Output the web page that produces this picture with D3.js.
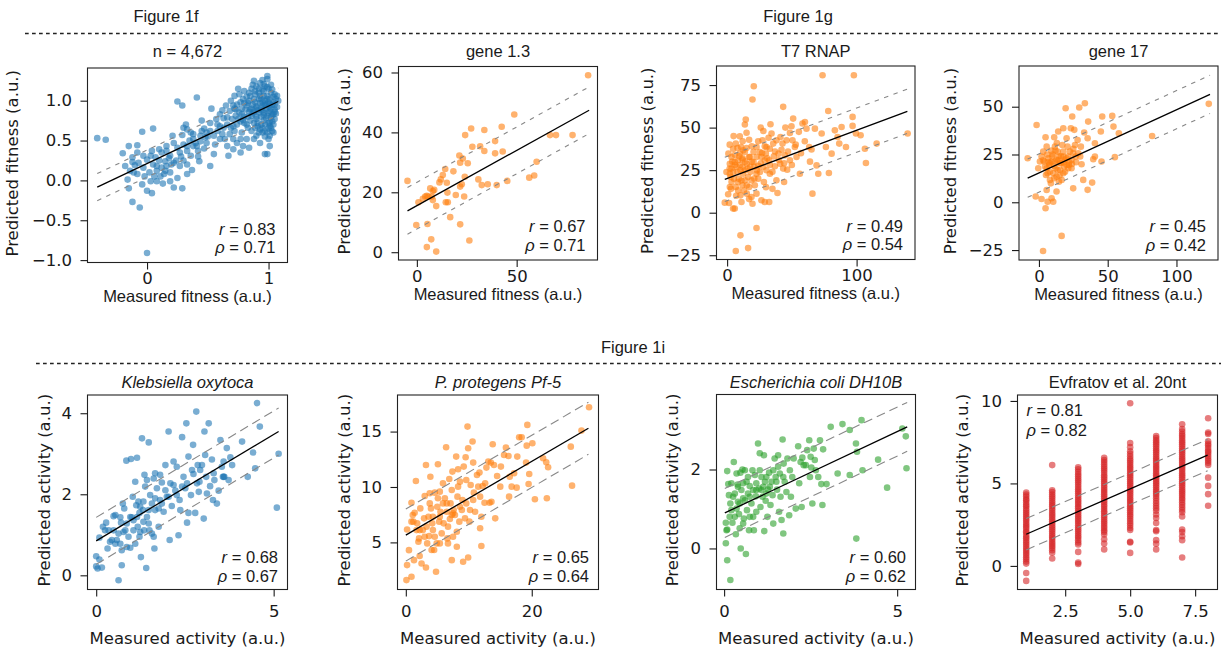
<!DOCTYPE html>
<html>
<head>
<meta charset="utf-8">
<script src="https://cdn.jsdelivr.net/npm/d3@7"></script>
<style>
  body { margin: 0; background: #fff; }
  svg  { display: block; }
</style>
</head>
<body>
<svg id="fig" width="1225" height="651"></svg>
<script>
// ── Data ────────────────────────────────────────────────────────────────────
const headerLabels = ["Figure 1f", "Figure 1g", "Figure 1i"];
const panelTitles  = ["n = 4,672", "gene 1.3", "T7 RNAP", "gene 17",
                      "Klebsiella oxytoca", "P. protegens Pf-5", "Escherichia coli DH10B", "Evfratov et al. 20nt"];
const xLabels = ["Measured fitness (a.u.)", "Measured activity (a.u.)"];
const yLabels = ["Predicted fitness (a.u.)", "Predicted activity (a.u.)"];
const rValues   = ["0.83", "0.67", "0.49", "0.45", "0.68", "0.65", "0.60", "0.81"];
const rhoValues = ["0.71", "0.71", "0.54", "0.42", "0.67", "0.64", "0.62", "0.82"];

const xTicks = [[0, 1], [0, 50], [0, 100], [0, 50, 100], [0, 5], [0, 20], [0, 5], [2.5, 5.0, 7.5]];
const yTicks = [[-1, -0.5, 0, 0.5, 1], [0, 20, 40, 60], [-25, 0, 25, 50, 75], [-25, 0, 25, 50],
                [0, 2, 4], [5, 10, 15], [0, 2], [0, 5, 10]];

// regression line end points and the half-width of the dashed band
const fitLines = [
  [[-0.41, -0.085], [1.08, 0.99]],
  [[-4.7, 13.8], [86.3, 47.4]],
  [[-1.8, 19.6], [139.2, 59.6]],
  [[-8.2, 12.6], [124.4, 56.5]],
  [[0, 0.85], [5.14, 3.55]],
  [[0, 5.66], [29.0, 15.3]],
  [[0.02, 0.9], [5.29, 3.08]],
  [[1.0, 1.92], [7.98, 6.72]],
];
const bandOffsets = [0.17, 7.8, 13, 10, 0.58, 2.35, 0.62, 0.95];

const fitnessAll = [
  [-0.41,0.53],[-0.34,0.51],[0,-0.91],[-0.06,-0.34],[-0.12,-0.27],
  [-0.2,0.34],[-0.15,0.43],[-0.08,0.44],[-0.04,0.61],[0.05,0.65],[-0.12,0.23],[-0.1,0.19],[-0.16,0.01],[-0.15,-0.1],
  [-0.11,0.1],[-0.08,0.08],[-0.03,0.16],[0,0.26],[0.03,0.31],[-0.04,-0.05],[0,-0.13],[0.04,-0.16],[0.03,-0.01],
  [0.08,-0.01],[0.13,-0.04],[0.12,0.16],[0.08,0.12],[0.15,0.24],[0.19,0.31],[0.04,0.37],[0.1,0.39],[0.16,0.37],
  [0.22,-0.09],[0.29,-0.1],[0.25,0.03],[0.19,0.1],[0.14,0.08],[0.33,0.2],[0.37,0.13],[0.33,0.08],[0.27,0.35],
  [0.33,0.37],[0.38,0.43],[0.43,0.24],[0.42,0.37],[0.25,0.41],[0.22,0.47],[0.21,0.56],[0.25,0.99],[0.29,0.94],
  [0.41,1.04],[0.33,0.64],[0.32,0.7],[0.29,0.57],[0.38,0.58],[0.47,0.65],[0.45,0.75],[0.49,0.47],[0.52,0.18],
  [0.55,0.33],[0.53,0.9],[0.57,0.77],[0.6,0.83],[0.63,0.66],[0.64,0.52],[0.67,0.31],[0.68,0.58],[0.71,0.68],
  [0.73,0.81],[0.75,1.15],[0.77,0.98],[0.74,0.47],[0.78,0.6],[0.79,0.43],[0.84,0.41],[0.82,0.7],[0.85,0.89],
  [0.88,1.02],[0.88,1.25],[0.92,1.1],[0.9,0.77],[0.93,0.64],[0.93,0.47],[0.96,0.85],[0.97,0.33],[0.99,1.27],
  [0.99,1.02],[1.0,0.52],[1.01,0.68],[1.02,0.79],[1.03,0.62],[1.04,0.98],[1.05,1.08],[1.05,0.89],[1.07,1.06],
  [1.08,1.0],[0.99,1.31],[0.96,1.21],[0.95,0.94],[0.9,0.91],[0.86,0.81],[0.82,0.94],[0.79,1.02],[0.71,0.94],
  [0.68,0.87],[0.66,0.79],[0.99,0.81],[1.01,0.73],[0.97,0.7],[0.95,0.6],[0.9,0.56],[0.88,0.52],[1.04,0.83],
  [1.01,0.87],[1.0,0.98],[0.96,1.06],[0.92,1.02],[0.89,0.98],[0.85,1.06],[0.84,1.0],[0.81,0.89],[0.78,0.83],
  [0.75,0.77],[0.73,0.89],[0.7,0.77],[0.6,0.68],[0.58,0.62],[0.49,0.6],[0.44,0.56],[0.38,0.52],[0.16,0.43],
  [0.12,0.35],[0.07,0.29],[-0.03,0.31],[-0.08,0.35],[-0.12,0.29],[-0.18,0.18],[-0.14,0.12],[-0.07,0.22],
  [0.08,0.18],[0.11,0.05],[0.16,0.18],[0.22,0.22],[0.27,0.18],[0.19,-0.01],[0.33,0.43],[0.36,0.31],[0.41,0.43],
  [0.44,0.49],[0.48,0.54],[0.55,0.56],[0.6,0.52],[0.66,0.43],[0.71,0.39],[0.77,0.35],[0.82,0.52],[0.77,0.52],
  [0.71,0.52],[0.99,0.33],[1.01,0.43],[1.01,0.56],[1.04,0.6],[1.05,0.77],[1.03,1.14],[0.99,1.17],[0.95,1.14],
  [0.92,0.85],[0.95,0.88],[0.98,0.9],[1.0,0.92],[0.97,0.95],[0.93,0.97],[0.9,0.93],[0.88,0.86],[0.86,0.9],
  [0.94,0.8],[0.98,0.78],[1.02,0.9],[1.03,0.95],[0.99,1.06],[0.96,1.12],[0.92,1.15],[0.89,1.08],[1.02,1.1],
  [1.05,0.95],[0.9,0.8],[0.84,0.86],[0.8,0.8],[0.96,0.75],[1.0,0.85],[0.94,1.02],[0.97,1.0],[1.01,1.02],
  [0.87,0.95],[0.83,0.97],[0.91,0.72],[1.03,0.74],[1.0,0.65],
  [0.72,0.9],[0.74,0.95],[0.76,0.85],[0.78,0.9],[0.8,0.97],[0.82,1.05],[0.84,1.1],[0.86,1.15],[0.87,1.2],
  [0.9,1.18],[0.93,1.22],[0.95,1.26],[0.97,1.18],[1.0,1.15],[1.02,1.2],[1.04,1.05],[1.06,1.02],[1.07,0.92],
  [1.06,0.84],[1.04,0.7],[1.02,0.66],[0.99,0.6],[0.97,0.55],[0.95,0.66],[0.92,0.6],[0.89,0.66],[0.86,0.62],
  [0.83,0.66],[0.8,0.72],[0.77,0.74],[0.74,0.7],[0.72,0.62],[0.69,0.66],[0.66,0.7],[0.63,0.78],[0.62,0.88],
  [0.65,0.94],[0.69,1.0],[0.72,1.06],[0.76,1.08],[0.8,1.12],[0.85,0.75],[0.88,0.72],[0.91,0.68],[0.94,0.7],
  [0.97,0.62],[1.0,0.72],[1.03,0.82],[1.05,0.86],[0.98,0.95],[0.95,0.98],[0.91,0.88],[0.87,0.84],[0.83,0.8],
  [0.79,0.76],[0.94,0.9],[0.96,0.82],[1.01,0.95],[0.89,1.12],[0.93,1.06],
  [0.5,0.55],[0.52,0.62],[0.45,0.62],[0.4,0.47],[0.35,0.5],[0.3,0.45],[0.28,0.3],[0.24,0.25],[0.2,0.2],
  [0.1,0.25],[0.05,0.2],[-0.02,0.05],[0.02,0.1],[0.06,0.05],[0.15,0.12],[0.18,0.28],[0.3,0.25],[0.42,0.3],
  [0.47,0.4],[0.56,0.45],[0.62,0.58],[0.58,0.7],[0.52,0.72],[0.36,0.6],[0.3,0.66]
];

const gene13 = [
  [-4.7,23.8],[-0.3,9.1],[0.8,16.7],[3,17.8],[4.2,18.6],[5,18.8],[5.8,18.6],[6.7,21.3],[7.5,18.6],[8,20.4],
  [8.7,20.8],[8,17.4],[9.7,15.4],[5.3,9.4],[5,1.7],[7.2,4.3],[9.7,0.2],[11.3,23.3],[12,24.3],[13,25.8],
  [14.2,27.8],[15,23.2],[14.5,16.7],[15.5,16.7],[15.3,19.9],[16.7,11.7],[18.3,27],[19.5,19.1],[21.3,32.3],
  [21.7,29.9],[21.7,21.9],[21.7,9.3],[23,31.3],[22.5,22.7],[24,25.2],[23.7,18.6],[24.2,39.1],[25.5,29.7],
  [26.3,3.9],[27.2,41.3],[27.8,35.2],[30.8,24.3],[31.7,35.4],[32.5,22.4],[33.8,40.8],[33.8,33.8],[35.5,22.7],
  [39.2,37.1],[39.2,33],[40,22.4],[42.5,41.9],[43,33.6],[45.3,23.8],[48.8,46],[56.3,24.9],[58.8,25.6],
  [60,30.2],[66.7,39.1],[69.7,39.1],[78,39.1],[85.8,59.1]
];

const t7rnap = [
  [-1.8,5.9],[1.5,5.7],[4.6,2.4],[5.9,2.4],[6.7,-22.5],[10.3,-13.3],[16.2,-20.8],[22.7,-9],[20.6,74.3],
  [19.6,66.5],[14.4,54.7],[13.7,51.8],[9.8,44.9],[10.8,38.6],[9.3,33.1],[11.9,31.2],[13.7,35.7],[17,42.9],
  [17.5,32.7],[3.4,25.9],[2.1,22.9],[3.4,18],[5.2,20],[6.7,15.1],[8.5,13.1],[10.3,10.2],[11.1,6.3],[0.8,10.8],
  [2.1,15.1],[7.2,26.9],[10.3,24.9],[12.4,22.9],[13.7,19],[15.2,16.1],[17,15.1],[18.8,9.2],[19.6,5.3],
  [21.4,16.1],[22.7,22.9],[24,27.5],[25.3,35.7],[26,50],[27.3,42.5],[29.1,39],[29.9,34.7],[30.4,24.9],
  [28.4,18],[29.1,6.3],[32.5,6.3],[33.5,52],[34.3,46.5],[35.6,40.6],[36.1,33.1],[36.9,27.3],[38.1,19],
  [38.9,11.6],[41.2,44.5],[42.8,40.6],[43.3,62.2],[44.6,33.7],[46.4,25.3],[48.5,46.9],[49.7,50.8],[51,55.3],
  [52.3,38.6],[53.6,32.7],[55.4,47.5],[56.2,22.9],[58.2,52.4],[60.1,53.3],[61.3,49.4],[63.4,38.6],[65.2,37.1],
  [65.9,11.2],[67.8,49.4],[69.1,27.8],[70.4,22.9],[73,46.5],[73.7,80.8],[76.3,38.6],[78.1,59.8],[78.6,23.3],
  [80.7,34.7],[83.2,48.4],[85.3,44.5],[86.6,40.6],[88.4,50.4],[91.8,38.6],[96.9,56.3],[97.9,80.8],[96.9,51],
  [99.5,46.5],[103.1,45.5],[107.2,29.2],[106.4,37.6],[115.5,40.6],[139.4,46.5],[4.6,37.6],[6.7,40.6],
  [8.5,30.8],[5.9,29.8],[2.1,28.8],[-0.5,23.9],[11.9,26.9],[15.2,28.8],[17.8,26.9],[20.4,29.8],[22.7,32.7],
  [22.7,38.6],[26.5,32.7],[25.3,23.9],[33,22.9],[32.5,30.8],[30.4,38.6],[39.7,34.7],[41,28.8],[43.3,25.9],
  [48.5,30.8],[50.5,42.5],[45.9,42.5],[38.1,42.5],[33,37.6],[29.1,30.8],[13.7,24.9],[11.1,18.9],[8.5,18],
  [16.2,21],[18.8,19],[9.8,34.7],[12.4,36.7],[17,32.7],[20.4,35.7],[3.4,32.7],[1,34.7],[2.6,21],[4.6,23.9],
  [11.9,16.1],[15.2,11.2],[22.7,11.2],[26.5,7.3],
  [2,26],[4,30],[6,28],[8,24],[9,20],[10,28],[12,32],[14,30],[16,26],[18,24],[19,30],[21,27],[23,25],[24,20],
  [26,29],[27,35],[28,27],[31,32],[33,28],[35,24],[37,36],[40,31],[42,37],[44,29],[47,36],[50,28],[53,40],
  [57,35],[60,42],[64,30],[6,34],[8,38],[12,42],[15,38],[19,39],[24,42],[3,14],[7,10],[13,13],[17,8],[21,20],
  [30,15],[35,14],[44,18],[5,45],[2,40],[15,47],[28,48],[32,44],[45,50]
];

const gene17 = [
  [-8.2,23],[-1.7,40.4],[-0.5,17.8],[-2.4,3],[1.9,1.7],[0.7,21.3],[1.9,23.9],[3.1,26.5],[3.9,21.3],[4.8,34],
  [5.6,29.1],[5.1,14.3],[5.6,6.4],[4.8,-3.1],[6.3,0.3],[6.8,23],[7.5,19.5],[8,16],[8.7,9.9],[9.2,2.1],
  [10.4,0.3],[11.1,34],[11.6,29.1],[11.6,21.3],[12.1,17.8],[12.8,13.4],[12.8,5.6],[13.6,26.5],[14,37],
  [14.5,23.9],[15.3,16.9],[16,20.4],[16.5,11.7],[16.5,-17.6],[17.7,38.7],[17.7,26.5],[18.4,18.7],[18.9,22.2],
  [19.4,49.2],[20.1,33.5],[20.8,29.1],[21.3,23.9],[21.8,19.5],[22.5,26.5],[23.2,38.7],[24.2,44.9],[24.9,25.6],
  [24.9,7.3],[25.7,37.9],[26.6,23.9],[28.6,25.6],[29.3,49.6],[30.5,29.1],[31,19.9],[32.2,11.7],[32.9,36.5],
  [33.4,51.8],[35.4,33.5],[35.4,6.5],[35.8,42.2],[38.7,10.3],[39.5,22.5],[40.7,23.9],[40.7,30.9],[45,37],
  [46,44.9],[45.5,21.3],[53.3,45.2],[54.2,39.6],[55.2,23.6],[58.1,36.1],[82.3,34.7],[123.5,51.5],[3,-25.5],
  [4.4,18.7],[8,20.4],[9.7,23.9],[10.4,15.2],[13.6,16.9],[15.3,20.4],[17.7,15.2],[20.1,19.5],[21.3,17.8],
  [23.7,17.8],[23.7,22.2],[17.7,23.9],[12.8,22.2],[9.2,21.3],[6.3,15.2],[8,11.7],[11.1,12.6],[14.5,10.8],
  [5.6,17.8],[26.2,30],[28.1,32.6],
  [10,25],[12,27],[14,22],[16,24],[18,21],[20,23],[22,21],[24,20],[19,16],[15,14],[11,19],[7,21],[9,27],
  [13,31],[17,30],[25,28],[27,21],[30,24],[6,25],[3,22]
];

const klebsiella = [
  [0,0.47],[0.09,0.39],[0,0.22],[0.04,0.17],[0.16,0.19],[0.09,0.93],[0.19,1.2],[0.28,1.3],[0.32,0.66],
  [0.39,0.83],[0.44,0.87],[0.49,1.46],[0.54,1.49],[0.54,0.78],[0.58,0.87],[0.63,-0.12],[0.68,1.43],[0.7,1.3],
  [0.72,0.25],[0.75,1.77],[0.79,1.65],[0.82,1.11],[0.85,2.83],[0.91,0.95],[0.96,0.68],[0.98,2.87],[1,1.43],
  [1.03,1.94],[1.05,1.36],[1.1,2.31],[1.13,1.73],[1.15,2.9],[1.17,1.2],[1.19,1.82],[1.22,1.54],[1.24,1.07],
  [1.26,0.45],[1.29,3.38],[1.32,1.61],[1.33,1.82],[1.36,2.48],[1.38,2.19],[1.41,0.18],[1.43,1.44],[1.48,3.28],
  [1.48,1.28],[1.52,1.98],[1.57,1.03],[1.62,2.39],[1.64,0.66],[1.66,1.61],[1.71,2.15],[1.76,1.2],[1.8,1.86],
  [1.85,2.29],[1.9,1.57],[1.95,2.72],[1.99,1.94],[2.04,3.55],[2.07,0.87],[2.09,2.27],[2.13,1.71],[2.18,2.81],
  [2.23,2.09],[2.27,2.68],[2.32,0.99],[2.35,1.86],[2.37,1.61],[2.42,3.41],[2.46,2.43],[2.51,2.15],[2.54,3.75],
  [2.56,1.3],[2.6,2.93],[2.6,1.54],[2.67,1.98],[2.73,3.22],[2.74,2.5],[2.79,1.54],[2.82,4.04],[2.86,2.72],
  [2.89,2.06],[2.91,2.31],[2.98,2.72],[3.03,1.4],[3.05,3.55],[3.07,2.97],[3.1,2.43],[3.17,3.75],[3.21,2.2],
  [3.26,2.86],[3.29,1.86],[3.33,2.35],[3.4,1.77],[3.45,2.09],[3.5,3.34],[3.54,2.68],[3.57,2.43],[3.59,2.81],
  [3.61,2.43],[3.68,3.14],[3.73,2.35],[3.78,2.91],[3.83,2.72],[4.11,3.3],[4.27,2.43],[4.42,3.03],[4.48,2.64],
  [4.53,4.25],[4.61,3.67],[5.14,3],[5.09,1.67],[0.49,1.11],[0.63,1.03],[0.68,0.78],[0.77,1.07],[0.86,1.28],
  [0.96,1.44],[1.05,1.11],[1.15,1.44],[1.24,1.69],[1.33,1.32],[1.48,1.61],[1.57,1.77],[1.66,1.9],[1.76,1.65],
  [1.85,1.77],[1.95,2.1],[2.04,1.94],[2.18,2.23],[2.27,1.98],[2.42,2.19],[2.56,2.27],[2.7,2.6],[2.84,2.27],
  [2.93,2.6],[3.12,2.02],[3.31,2.52],[3.59,2.43],[1.22,0.95],[1.35,1.11],[1.5,1.11],[1.62,0.95],[1.1,0.78],
  [0.86,0.7],[0.72,0.62],[0.25,1.11],[0.35,1.11],[1.43,2.35],[1.66,2.52],[1.8,2.48]
];

const protegens = [
  [0.1,1.6],[0.2,2.95],[0.2,6.17],[0.5,4.3],[0.9,1.9],[0.9,8.58],[0.9,6.87],[1.1,7.47],[1.3,3.4],[1.4,7.68],
  [1.6,10.54],[1.7,6.11],[1.8,6.72],[2,5.06],[2.1,5.36],[2.2,3.77],[2.3,8.07],[2.5,3.1],[2.7,6.11],[2.9,7.17],
  [3,9.19],[3.2,11.99],[3.2,2.74],[3.4,4.91],[3.6,7.32],[3.7,5.57],[3.8,9.43],[3.9,10.93],[4,8.07],[4.2,6.72],
  [4.3,6.11],[4.5,4.31],[4.6,9.49],[4.6,5.51],[4.8,2.35],[4.9,4.91],[5,8.22],[5.1,12.05],[5.3,6.87],[5.4,9.58],
  [5.5,7.77],[5.7,5.81],[5.9,10.33],[6,6.72],[6.2,8.98],[6.4,13.58],[6.5,7.77],[6.6,5.36],[6.7,6.42],
  [6.9,10.72],[7,7.11],[7.1,8.52],[7.3,3.4],[7.3,7.47],[7.4,11.39],[7.5,5.51],[7.6,7.92],[7.8,7.47],[8,12.74],
  [8.1,5.96],[8.2,9.13],[8.3,11.6],[8.5,6.87],[8.6,10.48],[8.9,7.92],[9,8.83],[9.1,3.25],[9.2,11.84],[9.4,7.17],
  [9.5,12.68],[9.6,10.63],[9.8,15.45],[9.9,13.49],[9.9,3.64],[10.1,6.87],[10.2,7.92],[10.3,10.18],[10.6,14.1],
  [10.7,12.2],[10.8,9.49],[11,7.77],[11.3,11.08],[11.5,10.03],[11.7,11.3],[11.8,6.27],[12,7.32],[12,4.67],
  [12.2,10.09],[12.5,8.58],[12.6,10.33],[12.8,11.75],[13.1,12.29],[13.3,8.58],[13.5,12.2],[13.6,8.67],
  [13.8,13.86],[14,11.99],[14.2,7.17],[14.5,10.99],[15,10.03],[15.1,11.84],[15.6,12.89],[15.9,13.55],
  [16.3,12.8],[16.4,9.13],[16.5,10.93],[16.8,10.03],[17.2,11.24],[17.6,9.94],[17.7,12.74],[18,14.49],
  [18.4,14.49],[19.1,12.2],[19.2,13.73],[19.3,15.6],[19.5,10.27],[19.6,11.17],[20.1,13.95],[20.5,8.89],
  [21.8,12.59],[22.3,12.23],[22.4,8.98],[22.6,11.78],[26.2,13.64],[26.4,10.12],[27.9,15.09],[29.1,17.2],
  [1.2,6.87],[2.2,6.11],[3.3,6.42],[4.3,7.32],[5.4,7.32],[6.5,8.52],[7.5,7.62],[8.6,8.22],[9.6,8.52],
  [10.7,8.83],[11.8,9.13],[3,5.51],[4.1,4.31],[5.4,4.91],[6.7,4.91],[8.1,4.61],[5.9,8.52],[5.1,8.98],
  [3.8,8.52],[7.3,9.73],[8.3,10.03]
];

const ecoli = [
  [0.09,1.96],[0.05,0.65],[0.07,0.46],[0.09,0.48],[0.05,0.13],[0.09,-0.3],[0.18,-0.8],[0.12,1.63],[0.14,1.35],
  [0.18,1.14],[0.21,0.97],[0.24,0.65],[0.28,2.19],[0.31,1.39],[0.34,0.36],[0.36,1.01],[0.39,1.62],[0.4,1.18],
  [0.43,0.87],[0.45,0.51],[0.47,1.92],[0.48,0],[0.5,1.48],[0.53,2],[0.55,1.27],[0.57,0.76],[0.6,1.98],
  [0.63,-0.14],[0.65,1.69],[0.66,0.97],[0.69,1.39],[0.72,0.46],[0.74,1.58],[0.79,1.14],[0.82,1.98],[0.84,0.8],
  [0.86,0.46],[0.89,1.86],[0.92,1.32],[0.93,0.93],[0.98,2.66],[1.01,1.52],[1.03,2.41],[1.05,1.05],[1.08,1.81],
  [1.11,1.31],[1.15,2.36],[1.16,0.44],[1.18,1.69],[1.2,1.21],[1.22,1.81],[1.25,0.8],[1.27,1.49],[1.3,1.92],
  [1.34,1.1],[1.37,1.69],[1.4,1.35],[1.42,0.63],[1.46,2.28],[1.49,1.81],[1.53,1.49],[1.56,2.36],[1.59,0.93],
  [1.61,1.9],[1.63,1.31],[1.66,0.72],[1.69,2.76],[1.71,0.38],[1.72,2.15],[1.75,1.69],[1.8,1.43],[1.83,2.28],
  [1.88,0.84],[1.9,1.98],[1.93,1.31],[1.97,1.81],[2.01,2.28],[2.07,1.01],[2.14,2.59],[2.17,1.65],[2.21,2.19],
  [2.24,1.05],[2.26,2.3],[2.3,2.11],[2.36,2.11],[2.4,2.49],[2.46,2.74],[2.48,1.81],[2.5,2.32],[2.52,2.05],
  [2.55,1.14],[2.59,2.53],[2.62,2.24],[2.65,1.98],[2.72,1.81],[2.77,2.74],[2.81,1.63],[2.84,1.1],[2.86,2.51],
  [2.96,1.63],[3.08,3.08],[3.28,1.9],[3.42,3.15],[3.63,3],[3.63,1.86],[3.81,2.66],[3.82,0.25],[3.84,2.45],
  [3.97,3.25],[4,1.98],[4.45,2.25],[4.71,1.54],[5.15,3.04],[5.25,2.84],[5.27,2.03],[0.31,0.8],[0.45,1.14],
  [0.6,1.22],[0.74,1.31],[0.93,1.48],[1.13,1.56],[1.32,1.56],[1.51,1.69],[1.71,1.81],[0.93,1.65],[1.08,1.48],
  [1.22,1.39],[0.55,1.65],[0.69,1.81],[0.4,1.56],[0.26,1.31],[0.21,1.65],[0.36,1.9],[0.16,0.8],[0.55,0.63],
  [0.74,0.8],[0.84,1.48],[1.03,1.98],[1.42,1.98],[1.56,2.07]
];

// Evfratov: measured activity is discrete (1..8); one list of predicted values per level
const evfratovX = [1, 2, 3, 4, 5, 6, 7, 8];
const evfratovY = [
  [4.45,4.32,4.2,4.05,3.98,3.84,3.7,3.62,3.47,3.35,3.22,3.1,2.98,2.85,2.74,2.6,2.48,2.37,2.25,2.1,2.02,1.88,
   1.75,1.66,1.52,1.4,1.28,1.15,1.02,0.9,0.78,0.66,0.52,0.4,0.26,0.14,-0.43,-0.91],
  [6.11,4.58,4.47,4.33,4.2,4.08,3.95,3.83,3.71,3.6,3.46,3.35,3.2,3.08,2.96,2.83,2.7,2.58,2.45,2.33,2.2,2.08,
   1.95,1.82,1.7,1.58,1.45,1.33,1.2,1.08,0.95,0.8,0.45],
  [5.98,5.85,5.7,5.56,5.43,5.3,5.17,5.05,4.92,4.78,4.65,4.52,4.4,4.26,4.13,4.0,3.88,3.75,3.62,3.5,3.36,3.24,
   3.1,2.98,2.85,2.72,2.6,2.46,2.33,2.2,2.08,1.95,1.82,1.7,1.56,1.42,1.3,0.85,0.2,0.12],
  [6.55,6.42,6.3,6.16,6.03,5.9,5.78,5.64,5.5,5.38,5.25,5.12,5.0,4.86,4.73,4.6,4.48,4.35,4.22,4.1,3.96,3.84,
   3.7,3.58,3.45,3.32,3.2,3.06,2.93,2.8,2.68,2.55,2.42,2.3,2.16,2.05,1.9,1.62,1.36,1.0],
  [9.86,7.45,7.2,6.95,6.8,6.65,6.5,6.38,6.25,6.12,6.0,5.88,5.75,5.62,5.5,5.38,5.25,5.12,5.0,4.88,4.75,4.62,
   4.5,4.38,4.25,4.12,4.0,3.88,3.75,3.62,3.5,3.38,3.25,3.12,3.0,2.86,2.72,2.58,2.45,2.3,2.18,1.46,1.42,0.79],
  [7.87,7.75,7.62,7.5,7.38,7.25,7.12,7.0,6.88,6.75,6.62,6.5,6.38,6.25,6.12,6.0,5.88,5.75,5.62,5.5,5.38,5.25,
   5.12,5.0,4.88,4.75,4.62,4.5,4.38,4.25,4.1,3.95,3.8,3.65,3.5,3.35,3.12,2.9,2.6,2.18,2.1,1.56,1.35,1.0],
  [8.58,8.3,8.15,8.0,7.88,7.75,7.62,7.5,7.38,7.25,7.12,7.0,6.88,6.75,6.62,6.5,6.38,6.25,6.12,6.0,5.88,5.75,
   5.62,5.5,5.38,5.25,5.12,5.0,4.88,4.75,4.62,4.5,4.38,4.25,4.12,4.0,3.85,3.7,3.55,3.4,3.25,3.0,2.2,2.05,1.8,
   1.56,0.51],
  [8.95,8.08,8.0,7.55,7.4,7.3,7.15,7.0,6.9,6.78,6.65,6.5,6.38,6.25,6.12,5.35,4.85,4.35,3.65],
];
const evfratov = evfratovX.flatMap((lvl, i) => evfratovY[i].map(v => [lvl, v]));

// ── Layout / styling ────────────────────────────────────────────────────────
const ARIAL  = "'Liberation Sans', Arial, sans-serif";
const DEJAVU = "'DejaVu Sans', sans-serif";
const INK = "#1a1a1a";
const C = { blue: "#1f77b4", orange: "#ff7f0e", green: "#2ca02c", red: "#d62728" };

const PANELS = [
  { pts: fitnessAll, color: C.blue,   xDom: [-0.49, 1.156], yDom: [-1.03, 1.41], xFmt: "d", yFmt: ".1f",
    box: [87.5, 68, 200, 194.5], row: 0, ylabX: 17.5 },
  { pts: gene13,     color: C.orange, xDom: [-9.2, 90.5],   yDom: [-2.6, 62],    xFmt: "d", yFmt: "d",
    box: [398.5, 66.5, 199, 193.5], row: 0, ylabX: 349.5 },
  { pts: t7rnap,     color: C.orange, xDom: [-8.2, 145.1],  yDom: [-27.5, 86.2], xFmt: "d", yFmt: "d",
    box: [716.5, 66, 198.5, 193.5], row: 0, ylabX: 653 },
  { pts: gene17,     color: C.orange, xDom: [-14.5, 130.2], yDom: [-30.2, 71.3], xFmt: "d", yFmt: "d",
    box: [1019, 66, 199, 194], row: 0, ylabX: 956 },
  { pts: klebsiella, color: C.blue,   xDom: [-0.245, 5.39], yDom: [-0.35, 4.45], xFmt: "d", yFmt: "d",
    box: [87.5, 395, 200, 194.5], row: 1, ylabX: 49.5, italic: true },
  { pts: protegens,  color: C.orange, xDom: [-1.32, 30.6],  yDom: [0.75, 18.3],  xFmt: "d", yFmt: "d",
    box: [397.5, 395, 201, 194.5], row: 1, ylabX: 349.5, italic: true },
  { pts: ecoli,      color: C.green,  xDom: [-0.22, 5.53],  yDom: [-1.04, 3.9],  xFmt: "d", yFmt: "d",
    box: [716.5, 394.5, 199, 195], row: 1, ylabX: 678, italic: true },
  { pts: evfratov,   color: C.red,    xDom: [0.665, 8.36],  yDom: [-1.43, 10.36], xFmt: ".1f", yFmt: "d",
    box: [1017.5, 395, 200, 194.5], row: 1, ylabX: 968, annoTopLeft: true },
];

const ROWS = [
  { tickFont: 16.5, xPad: 3, yPad: 8.5, xlabFont: ARIAL,  xlabDy: 39.5, titleY: 57,    anno: [28, 9.5],  annoR: 12,
    bandDash: "4.5,5.5" },
  { tickFont: 16.5, xPad: 9, yPad: 8.5, xlabFont: DEJAVU, xlabDy: 54,   titleY: 387.5, anno: [26.5, 7.8], annoR: 9.5,
    bandDash: "9,5" },
];

const HEADERS = [
  { x: 166, y: 21.5,  line: [25, 288, 33.5] },
  { x: 798, y: 21.5,  line: [332, 1221, 33.5] },
  { x: 633, y: 353,   line: [36, 1221, 363.5] },
];

const svg = d3.select("#fig");
svg.append("rect").attr("width", 1225).attr("height", 651).attr("fill", "#fff");

// ── Section headers with dashed rules ───────────────────────────────────────
HEADERS.forEach((h, i) => {
  svg.append("text").attr("x", h.x).attr("y", h.y)
    .attr("text-anchor", "middle").attr("font-family", ARIAL).attr("font-size", 16.5)
    .attr("fill", INK).text(headerLabels[i]);
  svg.append("line")
    .attr("x1", h.line[0]).attr("x2", h.line[1]).attr("y1", h.line[2]).attr("y2", h.line[2])
    .attr("stroke", "#222").attr("stroke-width", 1.3).attr("stroke-dasharray", "3.7,3.3");
});

// ── One scatter panel ───────────────────────────────────────────────────────
function drawPanel(P, i) {
  const R = ROWS[P.row];
  const [bx, by, bw, bh] = P.box;
  const x = d3.scaleLinear().domain(P.xDom).range([bx, bx + bw]);
  const y = d3.scaleLinear().domain(P.yDom).range([by + bh, by]);
  const g = svg.append("g");

  svg.append("clipPath").attr("id", `clip${i}`)
    .append("rect").attr("x", bx).attr("y", by).attr("width", bw).attr("height", bh);

  // points
  g.append("g").attr("clip-path", `url(#clip${i})`)
    .selectAll("circle").data(P.pts).join("circle")
    .attr("cx", d => x(d[0])).attr("cy", d => y(d[1])).attr("r", 3.3)
    .attr("fill", P.color).attr("fill-opacity", 0.6);

  // fit line and ± band
  const [[x0, y0], [x1, y1]] = fitLines[i];
  const off = bandOffsets[i];
  [-off, off].forEach(o => {
    g.append("line")
      .attr("x1", x(x0)).attr("y1", y(y0 + o)).attr("x2", x(x1)).attr("y2", y(y1 + o))
      .attr("stroke", "#888").attr("stroke-width", 1.1).attr("stroke-dasharray", R.bandDash);
  });
  g.append("line")
    .attr("x1", x(x0)).attr("y1", y(y0)).attr("x2", x(x1)).attr("y2", y(y1))
    .attr("stroke", "#000").attr("stroke-width", 1.3);

  // frame
  g.append("rect").attr("x", bx).attr("y", by).attr("width", bw).attr("height", bh)
    .attr("fill", "none").attr("stroke", "#222").attr("stroke-width", 1.1);

  // axes
  const ax = g.append("g").attr("transform", `translate(0,${by + bh})`)
    .call(d3.axisBottom(x).tickValues(xTicks[i]).tickFormat(d3.format(P.xFmt)).tickSize(7).tickPadding(R.xPad));
  const ay = g.append("g").attr("transform", `translate(${bx},0)`)
    .call(d3.axisLeft(y).tickValues(yTicks[i]).tickFormat(d3.format(P.yFmt)).tickSize(7).tickPadding(R.yPad));
  [ax, ay].forEach(a => {
    a.select(".domain").remove();
    a.attr("font-family", DEJAVU).attr("font-size", R.tickFont).attr("color", INK);
    a.selectAll(".tick line").attr("stroke-width", 1.1);
  });

  // title
  g.append("text").attr("x", bx + bw / 2).attr("y", R.titleY)
    .attr("text-anchor", "middle").attr("font-family", ARIAL).attr("font-size", 16.5)
    .attr("font-style", P.italic ? "italic" : "normal").attr("fill", INK).text(panelTitles[i]);

  // axis labels
  g.append("text").attr("x", bx + bw / 2).attr("y", by + bh + R.xlabDy)
    .attr("text-anchor", "middle").attr("font-family", R.xlabFont).attr("font-size", 16.5)
    .attr("fill", INK).text(xLabels[P.row]);
  g.append("text")
    .attr("transform", `translate(${P.ylabX},${by + bh / 2 - 2}) rotate(-90)`)
    .attr("text-anchor", "middle").attr("font-family", DEJAVU).attr("font-size", 16.5)
    .attr("fill", INK).text(yLabels[P.row]);

  // r / rho annotation
  const lines = [["r", rValues[i]], ["ρ", rhoValues[i]]];
  lines.forEach(([sym, val], k) => {
    const t = g.append("text").attr("font-family", ARIAL).attr("font-size", 16.5).attr("fill", INK);
    if (P.annoTopLeft) {
      t.attr("x", bx + 9).attr("y", by + 21 + k * 19.5).attr("text-anchor", "start");
    } else {
      t.attr("x", bx + bw - R.annoR).attr("y", by + bh - R.anno[k]).attr("text-anchor", "end");
    }
    t.append("tspan").attr("font-style", "italic").text(sym);
    t.append("tspan").text(" = " + val);
  });
}

PANELS.forEach(drawPanel);
</script>
</body>
</html>
